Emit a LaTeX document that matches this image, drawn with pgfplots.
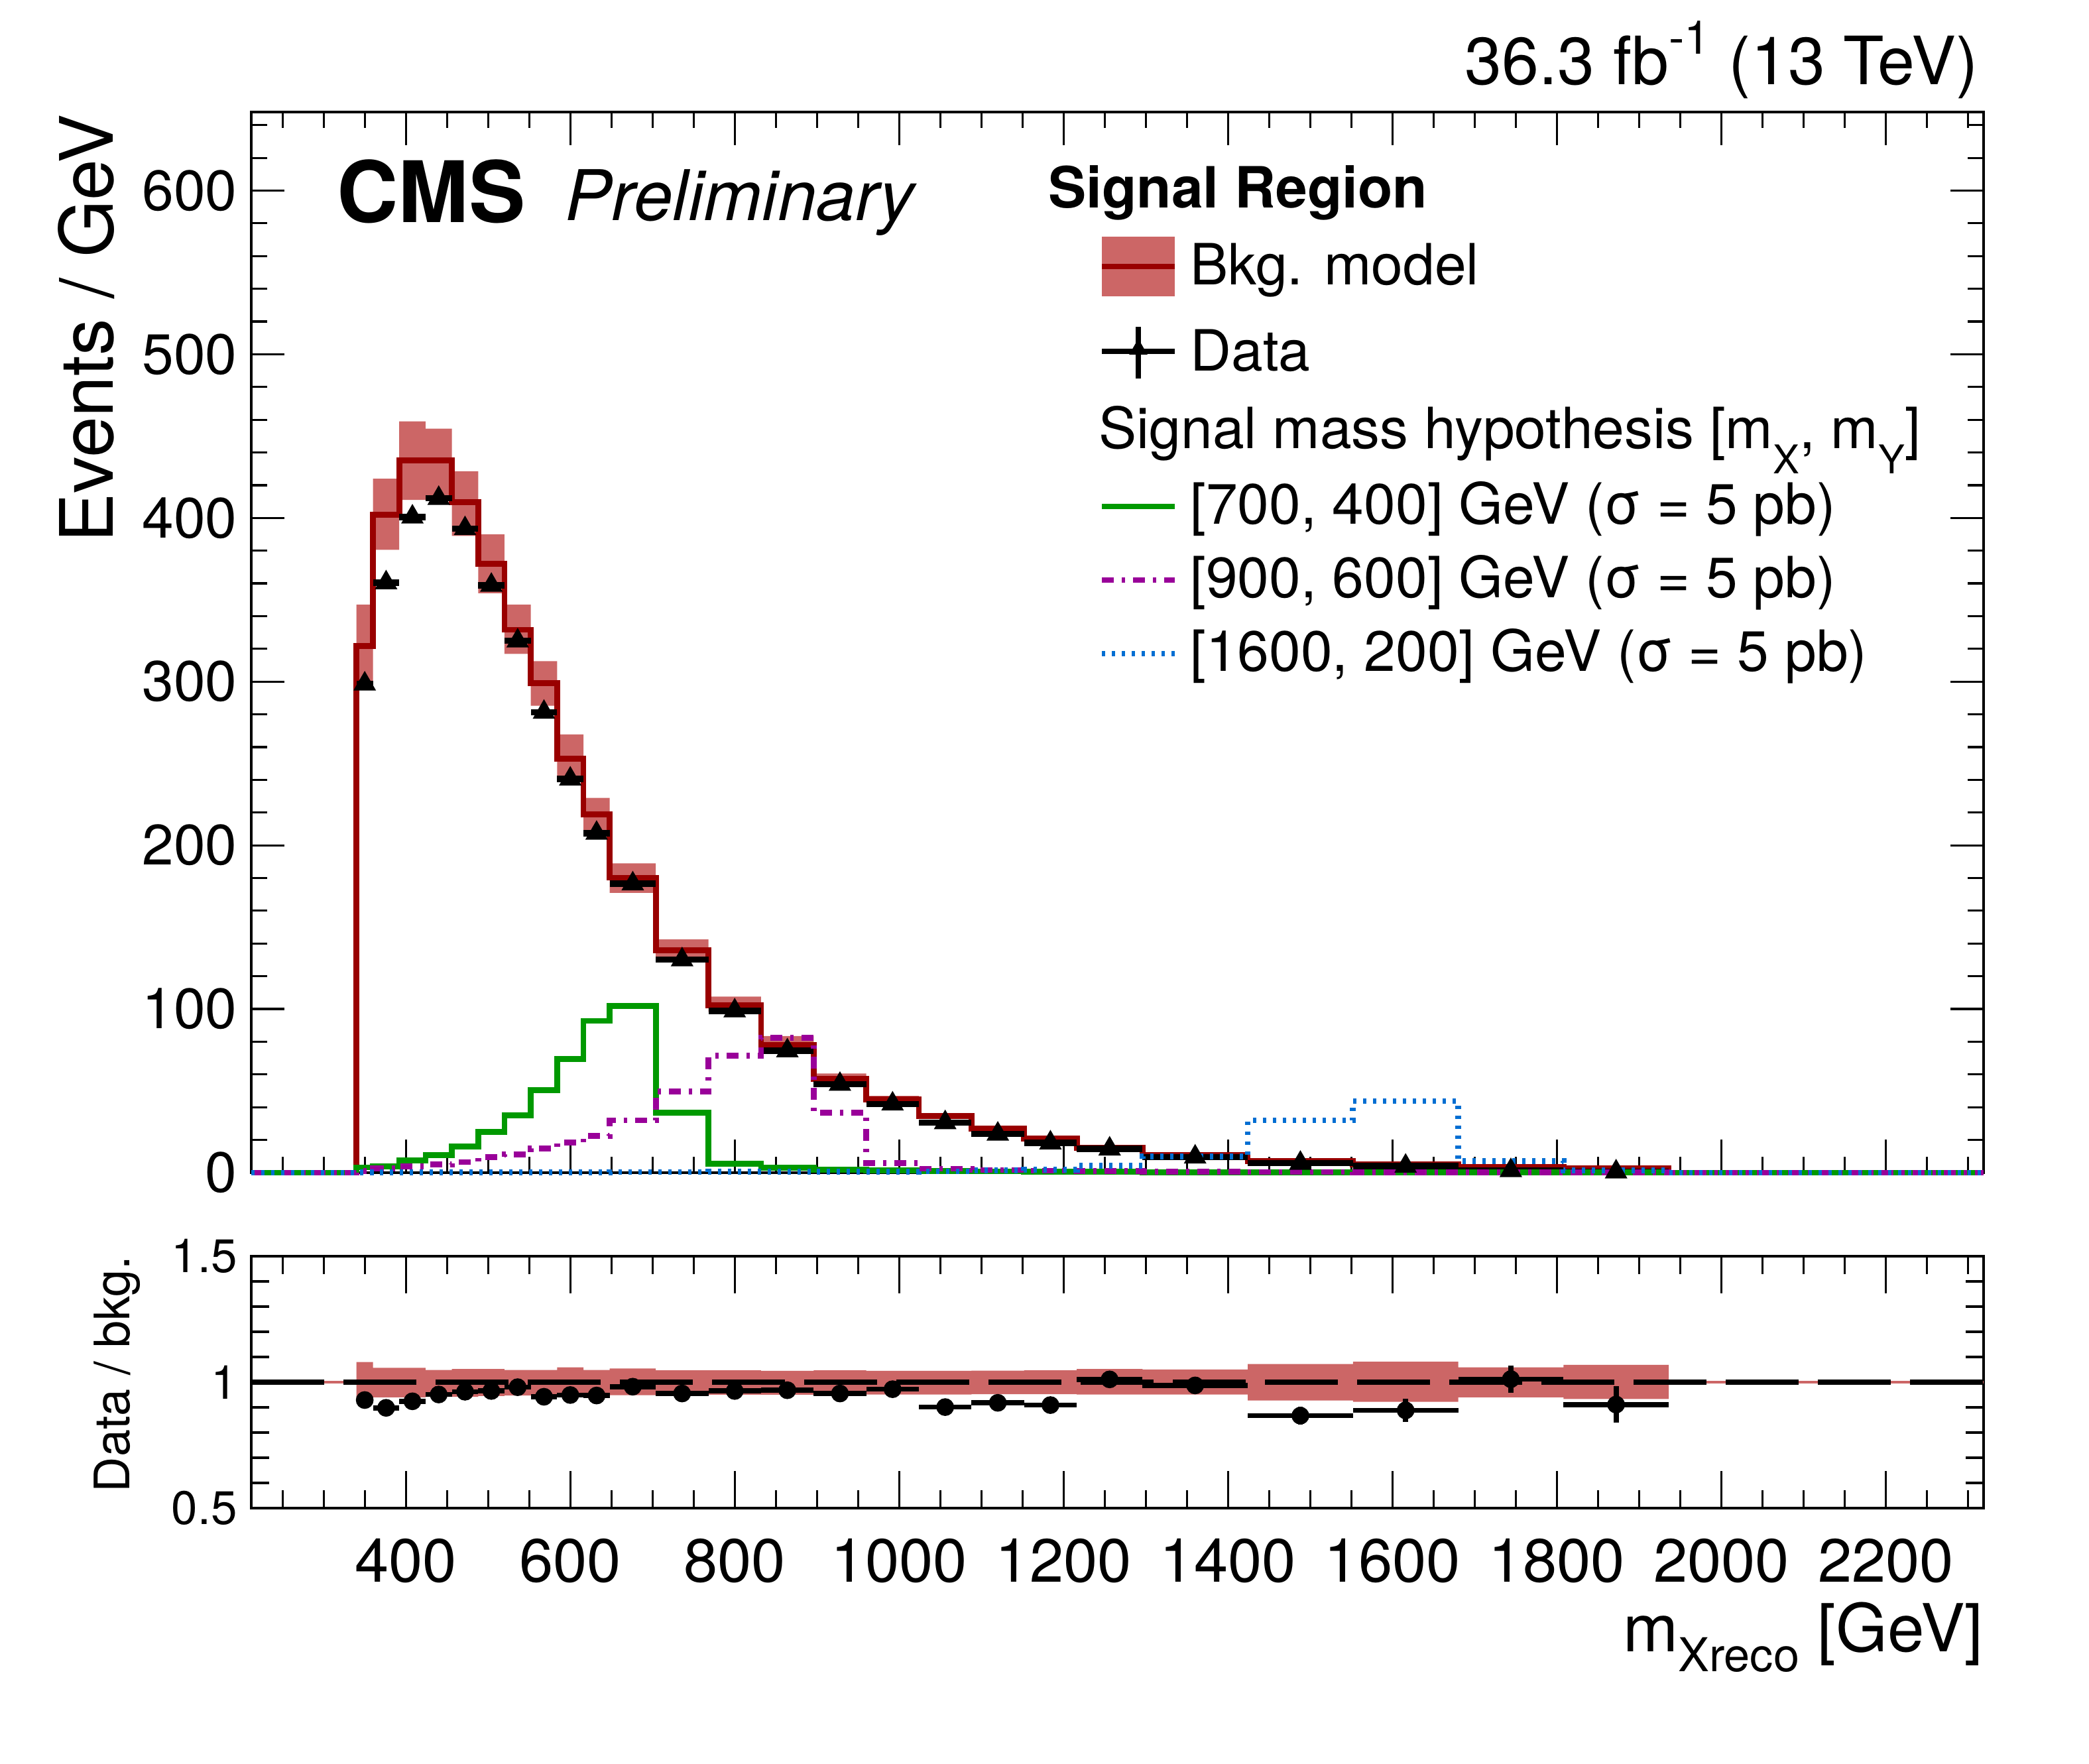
\documentclass[border=0pt]{standalone}
\usepackage{fontspec}
\setmainfont{TeX Gyre Heros}
\usepackage{pgfplots}
\pgfplotsset{compat=1.18}
\usepackage{pgfplotstable}
\usepgfplotslibrary{fillbetween}
\definecolor{bandcol}{RGB}{204,102,102}
\definecolor{bkgcol}{RGB}{153,0,0}
\definecolor{sigg}{RGB}{0,153,0}
\definecolor{sigp}{RGB}{153,0,153}
\definecolor{sigb}{RGB}{0,110,210}

\pgfplotstableread{
x y
340 0
340 321.8
360 402
392 435
424 435
456 409.5
488 371.9
520 331.7
552 299.2
584 252.9
616 218.9
648 180.2
704 136
768 102.3
832 78.2
896 57.4
960 44.7
1024 34.6
1088 27
1152 20.9
1216 15.2
1296 10.7
1424 7.2
1552 5.0
1680 3.4
1808 2.5
1936 2.5
1936 0
}\bkgtab

\pgfplotstableread{
x t b
340 347 297.7
360 424 380.5
392 459 411
424 454.5 411
456 428.5 389
488 390 354
520 347 317
552 312.5 285.3
584 267.7 242
616 229 208
648 189 171
704 142.5 132
768 107.6 98.3
832 83.5 73.6
896 60.6 54.5
960 46.9 42.5
1024 36.3 32.9
1088 28.4 25.7
1152 21.9 19.9
1216 16.0 14.4
1296 11.2 10.2
1424 7.7 6.7
1552 5.4 4.6
1680 3.6 3.2
1808 2.7 2.3
1936 2.7 2.3
}\bandtab

\pgfplotstableread{
x t b
340 1.080 0.930
360 1.057 0.940
392 1.057 0.940
424 1.048 0.942
456 1.052 0.942
488 1.052 0.945
520 1.048 0.947
552 1.048 0.947
584 1.059 0.947
616 1.048 0.948
648 1.054 0.948
704 1.047 0.950
768 1.047 0.950
832 1.045 0.950
896 1.047 0.951
960 1.045 0.951
1024 1.045 0.951
1088 1.046 0.952
1152 1.047 0.952
1216 1.052 0.951
1296 1.050 0.951
1424 1.072 0.927
1552 1.081 0.922
1680 1.059 0.940
1808 1.069 0.933
1936 1.069 0.933
}\rbandtab

\pgfplotstableread{
x ex y ey
350 10 298.6 3.9
376 16 360.4 3.4
408 16 400.6 3.5
440 16 412 3.6
472 16 393.5 3.5
504 16 358.9 3.3
536 16 324.9 3.2
568 16 281.3 3.0
600 16 240.5 2.7
632 16 207.4 2.5
676 28 176.5 1.8
736 32 130.1 1.4
800 32 98.9 1.2
864 32 74.5 1.1
928 32 54 0.9
992 32 42 0.8
1056 32 30.6 0.7
1120 32 23.6 0.6
1184 32 18.2 0.5
1256 40 14.5 0.4
1360 64 9.6 0.3
1488 64 5.8 0.2
1616 64 4.0 0.2
1744 64 1.3 0.1
1872 64 0.5 0.1
}\datatab

\pgfplotstableread{
x ex r er
350 10 0.929 0.015
376 16 0.898 0.015
408 16 0.924 0.015
440 16 0.951 0.015
472 16 0.962 0.015
504 16 0.965 0.015
536 16 0.980 0.015
568 16 0.942 0.015
600 16 0.949 0.016
632 16 0.947 0.017
676 28 0.982 0.017
736 32 0.955 0.018
800 32 0.965 0.019
864 32 0.968 0.020
928 32 0.955 0.022
992 32 0.972 0.024
1056 32 0.901 0.025
1120 32 0.918 0.028
1184 32 0.909 0.030
1256 40 1.011 0.030
1360 64 0.987 0.033
1488 64 0.867 0.036
1616 64 0.888 0.046
1744 64 1.012 0.055
1872 64 0.911 0.072
}\ratiotab

\pgfplotstableread{
x g p b
212 0 0 0
340 3.2 1.0 0.3
360 4.0 2.5 0.3
392 7.5 4.0 0.3
424 10.8 5.0 0.3
456 16 6.5 0.3
488 25 9.5 0.3
520 35 11 0.3
552 50.4 14.7 0.3
584 69.6 18.3 0.3
616 92.7 22.6 0.3
648 102 32 0.4
704 36.5 49.5 0.4
768 5.6 71.4 0.5
832 3.0 82.5 0.5
896 1.8 36.6 0.6
960 1.3 5.8 0.7
1024 1.0 2.4 0.8
1088 0.8 1.6 1.5
1152 0.6 1.2 1.8
1216 0.5 0.9 4.4
1296 0.3 0.6 9.8
1424 0.3 0.4 32
1552 0.2 0.3 43.7
1680 0.2 0.2 7.2
1808 0.1 0.2 1.3
1936 0 0 0
2319 0 0 0
}\sigtab

\begin{document}
\begin{tikzpicture}

% ---------------- upper panel ----------------
\begin{axis}[
  at={(1.895cm,4.46cm)}, anchor=south west,
  scale only axis, width=13.065cm, height=8cm,
  xmin=212, xmax=2319, ymin=0, ymax=648,
  xtick={200,400,...,2400}, minor x tick num=3, xticklabels={},
  ytick={0,100,...,700}, minor y tick num=4,
  tick pos=both, tick align=inside,
  major tick length=0.25cm, minor tick length=0.12cm,
  tick style={black, line width=0.45pt},
  axis line style={line width=0.6pt},
  yticklabel style={font=\fontsize{12.2}{14}\selectfont, inner sep=0pt, xshift=-0.1cm},
  /pgf/number format/assume math mode=true,
  /pgf/number format/1000 sep={},
  clip=false,
]
\addplot[const plot mark left, draw=none, name path=bt, forget plot] table[x=x,y=t] \bandtab;
\addplot[const plot mark left, draw=none, name path=bb, forget plot] table[x=x,y=b] \bandtab;
\addplot[bandcol, draw=none] fill between[of=bt and bb];
\addplot[const plot mark left, bkgcol, line width=1.25pt] table[x=x,y=y] \bkgtab;
\addplot[only marks, black, mark=triangle*, mark size=2.4pt,
  error bars/.cd, x dir=both, x explicit, y dir=both, y explicit,
  error mark=none, error bar style={line width=1.35pt, black}]
  table[x=x, y=y, x error=ex, y error=ey] \datatab;
\addplot[const plot mark left, sigg, line width=1.25pt] table[x=x,y=g] \sigtab;
\addplot[const plot mark left, sigp, line width=1.25pt,
  dash pattern=on 0.09cm off 0.06cm on 0.025cm off 0.06cm] table[x=x,y=p] \sigtab;
\addplot[const plot mark left, sigb, line width=1.25pt,
  dash pattern=on 0.025cm off 0.05cm] table[x=x,y=b] \sigtab;
\end{axis}

% ---------------- ratio panel ----------------
\begin{axis}[
  at={(1.895cm,1.93cm)}, anchor=south west,
  scale only axis, width=13.065cm, height=1.9cm,
  xmin=212, xmax=2319, ymin=0.5, ymax=1.5,
  xtick={200,400,...,2400}, minor x tick num=3,
  ytick={0.5,1,1.5}, minor y tick num=4,
  tick pos=both, tick align=inside,
  major tick length=0.28cm, minor tick length=0.135cm,
  tick style={black, line width=0.45pt},
  axis line style={line width=0.6pt},
  xticklabel style={font=\fontsize{13.1}{15}\selectfont, inner sep=0pt, yshift=-0.225cm},
  yticklabel style={font=\fontsize{10.1}{12}\selectfont, inner sep=0pt, xshift=-0.1cm},
  /pgf/number format/assume math mode=true,
  /pgf/number format/1000 sep={},
  clip=false,
]
\addplot[const plot mark left, draw=none, name path=rt, forget plot] table[x=x,y=t] \rbandtab;
\addplot[const plot mark left, draw=none, name path=rb, forget plot] table[x=x,y=b] \rbandtab;
\addplot[bandcol, draw=none] fill between[of=rt and rb];
\addplot[bandcol, line width=0.5pt] coordinates {(212,1) (2319,1)};
\addplot[black, line width=1.1pt, dash pattern=on 0.55cm off 0.145cm] coordinates {(212,1) (2319,1)};
\addplot[only marks, black, mark=*, mark size=1.7pt,
  error bars/.cd, x dir=both, x explicit, y dir=both, y explicit,
  error mark=none, error bar style={line width=1.1pt, black}]
  table[x=x, y=r, x error=ex, y error=er] \ratiotab;
\end{axis}

% ---------------- texts ----------------
\node[anchor=base west, inner sep=0pt] at (2.535,11.625) {\fontsize{18.2}{20}\selectfont\bfseries CMS};
\node[anchor=base west, inner sep=0pt] at (4.255,11.64) {\fontsize{15}{17}\selectfont\itshape Preliminary};
\node[anchor=base east, inner sep=0pt] at (14.925,12.665) {\fontsize{14.3}{16}\selectfont 36.3 fb\raisebox{0.46em}{\fontsize{10}{10}\selectfont -1} (13 TeV)};
\node[rotate=90, anchor=base east, inner sep=0pt] at (0.855,12.45) {\fontsize{15.8}{18}\selectfont Events / GeV};
\node[rotate=90, anchor=base east, inner sep=0pt] at (0.975,3.835) {\fontsize{10.5}{12}\selectfont Data / bkg.};
\node[anchor=base east, inner sep=0pt] at (14.965,0.845) {\fontsize{14.2}{16}\selectfont m\raisebox{-0.3em}{\fontsize{10}{10}\selectfont Xreco} [GeV]};

% ---------------- legend ----------------
\node[anchor=base west, inner sep=0pt] at (7.9,11.735) {\fontsize{12.2}{14}\selectfont\bfseries Signal Region};
\fill[bandcol] (8.31,11.07) rectangle (8.86,11.52);
\draw[bkgcol, line width=1.25pt] (8.31,11.295) -- (8.86,11.295);
\node[anchor=base west, inner sep=0pt] at (8.97,11.155) {\fontsize{12.2}{14}\selectfont Bkg. model};
\draw[black, line width=1.1pt] (8.31,10.655) -- (8.86,10.655);
\draw[black, line width=1.1pt] (8.585,10.45) -- (8.585,10.84);
\fill[black] (8.585,10.67) +(90:0.08) -- +(210:0.08) -- +(330:0.08) -- cycle;
\node[anchor=base west, inner sep=0pt] at (8.97,10.505) {\fontsize{12.2}{14}\selectfont Data};
\node[anchor=base west, inner sep=0pt] at (8.28,9.92) {\fontsize{12.2}{14}\selectfont Signal mass hypothesis [m\raisebox{-0.44em}{\fontsize{8.5}{9}\selectfont X}, m\raisebox{-0.44em}{\fontsize{8.5}{9}\selectfont Y}]};
\draw[sigg, line width=1.25pt] (8.31,9.485) -- (8.86,9.485);
\node[anchor=base west, inner sep=0pt] at (8.97,9.35) {\fontsize{12.2}{14}\selectfont [700, 400] GeV (σ = 5 pb)};
\draw[sigp, line width=1.25pt, dash pattern=on 0.09cm off 0.06cm on 0.025cm off 0.06cm] (8.31,8.93) -- (8.86,8.93);
\node[anchor=base west, inner sep=0pt] at (8.97,8.795) {\fontsize{12.2}{14}\selectfont [900, 600] GeV (σ = 5 pb)};
\draw[sigb, line width=1.25pt, dash pattern=on 0.025cm off 0.05cm] (8.31,8.375) -- (8.86,8.375);
\node[anchor=base west, inner sep=0pt] at (8.97,8.24) {\fontsize{12.2}{14}\selectfont [1600, 200] GeV (σ = 5 pb)};

\pgfresetboundingbox
\useasboundingbox (0,0) rectangle (15.755,13.305);
\end{tikzpicture}
\end{document}
